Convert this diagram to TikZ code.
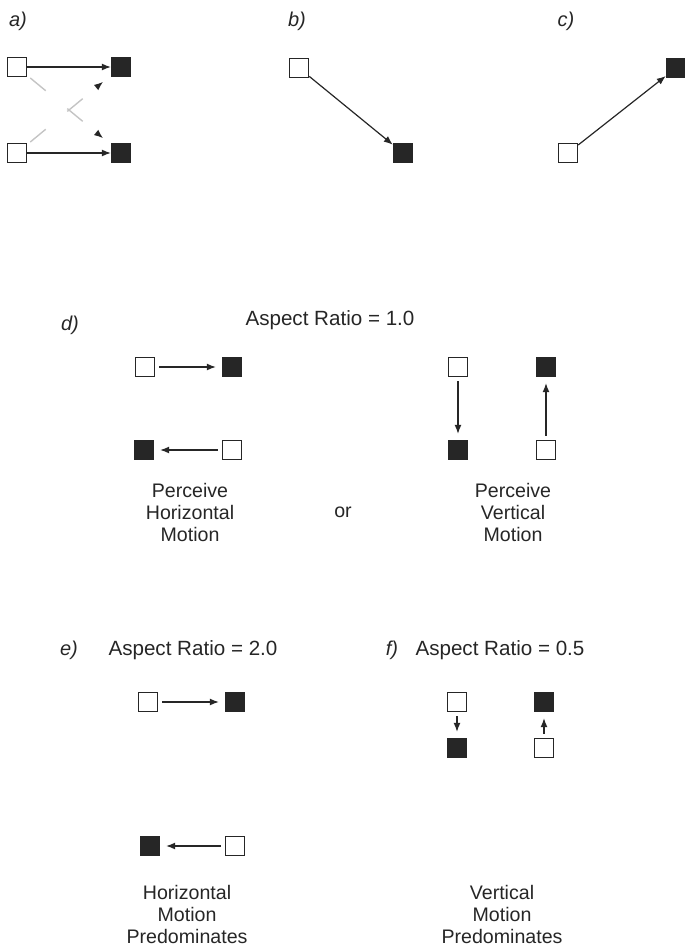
\documentclass[tikz,border=0pt]{standalone}
\usepackage{fontspec}
\setmainfont{Liberation Sans}
\usepackage{tikz}
\usetikzlibrary{
  arrows.meta
}
\definecolor{ink}{HTML}{262626}
\definecolor{ghostgray}{HTML}{C4C4C4}
\tikzset{
  opensq/.style={
    draw=ink,
    fill=white,
    line width=0.7pt,
    minimum size=9.5pt,
    inner sep=0pt
  },
  fullsq/.style={opensq, fill=ink},
  arrow/.style={-{Latex[length=4.5pt, width=3.5pt]}, line width=0.6pt, draw=ink},
  gaparrow/.style={arrow, shorten <=2pt, shorten >=3pt},
  ghost/.style={
    -{Latex[length=4.5pt, width=3.5pt, color=ink]},
    line width=0.7pt,
    draw=ghostgray,
    dash pattern=on 10pt off 14pt,
    shorten <=2pt,
    shorten >=5pt
  },
  panel/.style={text=ink, font=\itshape\fontsize{10}{12}\selectfont},
  heading/.style={text=ink, font=\fontsize{10.3}{12}\selectfont},
  caption/.style={text=ink, align=center, font=\fontsize{9.8}{11}\selectfont}
}

\begin{document}
\begin{tikzpicture}[x=0.5pt, y=-0.5pt]
  \useasboundingbox (0,0) rectangle (685,948);

  \node[panel] (la) at (18,21) {a)};
  \node[panel] (lb) at (297,21) {b)};
  \node[panel] (lc) at (566,21) {c)};

  \node[opensq] (aopen1) at (17,67) {};
  \node[fullsq] (afull1) at (121,67) {};
  \node[opensq] (aopen2) at (17,153) {};
  \node[fullsq] (afull2) at (121,153) {};
  \draw[ghost] (aopen1) -- (afull2);
  \draw[ghost] (aopen2) -- (afull1);
  \draw[arrow] (aopen1) -- (afull1);
  \draw[arrow] (aopen2) -- (afull2);

  \node[opensq] (bopen) at (299,68) {};
  \node[fullsq] (bfull) at (403,153) {};
  \draw[arrow] (bopen) -- (bfull);

  \node[opensq] (copen) at (568,153) {};
  \node[fullsq] (cfull) at (676,68) {};
  \draw[arrow] (copen) -- (cfull);

  \node[panel] (ld) at (70,325) {d)};
  \node[heading] (hd) at (330,320) {Aspect Ratio = 1.0};

  \node[opensq] (dopen1) at (145,367) {};
  \node[fullsq] (dfull1) at (232,367) {};
  \node[fullsq] (dfull2) at (144,450) {};
  \node[opensq] (dopen2) at (232,450) {};
  \draw[gaparrow] (dopen1) -- (dfull1);
  \draw[gaparrow] (dopen2) -- (dfull2);

  \node[opensq] (dopen3) at (458,367) {};
  \node[fullsq] (dfull3) at (458,450) {};
  \node[fullsq] (dfull4) at (546,367) {};
  \node[opensq] (dopen4) at (546,450) {};
  \draw[gaparrow] (dopen3) -- (dfull3);
  \draw[gaparrow] (dopen4) -- (dfull4);

  \node[caption] (capdh) at (190,512) {Perceive\\Horizontal\\Motion};
  \node[caption] (capor) at (343,512) {or};
  \node[caption] (capdv) at (513,512) {Perceive\\Vertical\\Motion};

  \node[panel] (le) at (69,650) {e)};
  \node[heading] (he) at (193,650) {Aspect Ratio = 2.0};

  \node[opensq] (eopen1) at (148,702) {};
  \node[fullsq] (efull1) at (235,702) {};
  \node[fullsq] (efull2) at (150,846) {};
  \node[opensq] (eopen2) at (235,846) {};
  \draw[gaparrow] (eopen1) -- (efull1);
  \draw[gaparrow] (eopen2) -- (efull2);

  \node[caption] (cape) at (187,914) {Horizontal\\Motion\\Predominates};

  \node[panel] (lf) at (392,650) {f)};
  \node[heading] (hf) at (500,650) {Aspect Ratio = 0.5};

  \node[opensq] (fopen1) at (457,702) {};
  \node[fullsq] (ffull1) at (457,748) {};
  \node[fullsq] (ffull2) at (544,702) {};
  \node[opensq] (fopen2) at (544,748) {};
  \draw[gaparrow] (fopen1) -- (ffull1);
  \draw[gaparrow] (fopen2) -- (ffull2);

  \node[caption] (capf) at (502,914) {Vertical\\Motion\\Predominates};
\end{tikzpicture}
\end{document}
